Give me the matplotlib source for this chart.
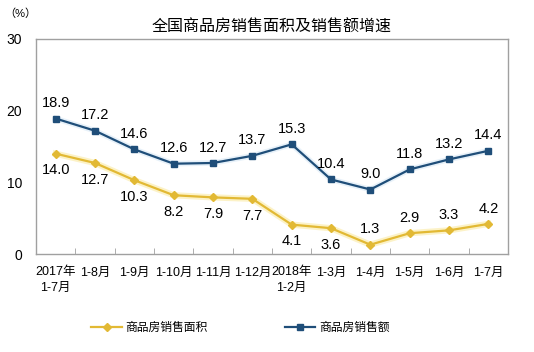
import matplotlib
matplotlib.use('Agg')
import matplotlib.pyplot as plt
import numpy as np

plt.rcParams['font.family'] = ['Liberation Sans', 'Noto Sans CJK SC', 'DejaVu Sans']

categories = ['2017年\n1-7月', '1-8月', '1-9月', '1-10月', '1-11月', '1-12月',
              '2018年\n1-2月', '1-3月', '1-4月', '1-5月', '1-6月', '1-7月']
area = [14.0, 12.7, 10.3, 8.2, 7.9, 7.7, 4.1, 3.6, 1.3, 2.9, 3.3, 4.2]
sales = [18.9, 17.2, 14.6, 12.6, 12.7, 13.7, 15.3, 10.4, 9.0, 11.8, 13.2, 14.4]
area_label_above = [False] * 8 + [True] * 4

yellow = '#E2B934'
navy = '#1F4E79'

fig = plt.figure(figsize=(5.34, 3.52), dpi=100)
ax = fig.add_axes([36 / 534, 1 - 254 / 352, 472 / 534, 215 / 352])

x = np.arange(len(categories))
# soft glow behind the lines
ax.plot(x, area, color='#FBEDB0', lw=4.5, alpha=0.7, zorder=2)
ax.plot(x, sales, color='#D8E8F6', lw=4, alpha=0.6, zorder=2)
ax.plot(x, area, color=yellow, lw=1.6, marker='D', ms=4, label='商品房销售面积', zorder=3)
ax.plot(x, sales, color=navy, lw=1.6, marker='s', ms=4.5, label='商品房销售额', zorder=3)

for i, v in enumerate(sales):
    ax.annotate(f'{v:.1f}', (i, v), xytext=(0, 6), textcoords='offset points',
                ha='center', va='bottom', fontsize=10.5)
for i, v in enumerate(area):
    if area_label_above[i]:
        ax.annotate(f'{v:.1f}', (i, v), xytext=(0, 6), textcoords='offset points',
                    ha='center', va='bottom', fontsize=10.5)
    else:
        ax.annotate(f'{v:.1f}', (i, v), xytext=(0, -7), textcoords='offset points',
                    ha='center', va='top', fontsize=10.5)

ax.set_xlim(-0.5, len(categories) - 0.5)
ax.set_ylim(0, 30)
ax.set_yticks([0, 10, 20, 30])
ax.tick_params(axis='y', length=0, labelsize=10, pad=10)
ax.set_xticks(x)
ax.set_xticklabels(categories, fontsize=9, ha='center', va='top', linespacing=1.4)
for lbl in ax.get_xticklabels():
    lbl.set_multialignment('center')
ax.tick_params(axis='x', length=0, pad=9)
ax.set_xticks(np.arange(0.5, len(categories) - 1, 1), minor=True)
ax.tick_params(axis='x', which='minor', direction='in', length=4, color='#A0A0A0')
for s in ax.spines.values():
    s.set_color('#A0A0A0')
    s.set_linewidth(1)

fig.text(272 / 534, 1 - 27 / 352, '全国商品房销售面积及销售额增速', ha='center', va='center',
         fontsize=11.5)
fig.text(4 / 534, 1 - 14 / 352, '（%）', ha='left', va='center', fontsize=8)

fig.legend(loc='center', bbox_to_anchor=(0.45, 1 - 328 / 352), ncol=2, frameon=False,
           fontsize=8.5, columnspacing=6.5, handlelength=2.6, handletextpad=0.3)

fig.savefig('out.png', dpi=100)
